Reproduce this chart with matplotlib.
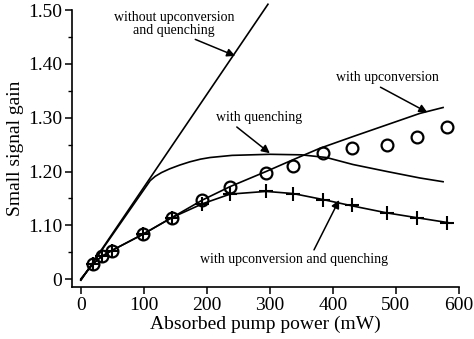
import matplotlib
matplotlib.use("Agg")
import matplotlib.pyplot as plt
from matplotlib.ticker import MultipleLocator, FixedLocator

plt.rcParams['font.family'] = ['Liberation Serif', 'DejaVu Serif']

# Data
pump_pts = [19, 33, 49, 98, 144, 193, 237, 294, 337, 384, 431, 486, 534, 581]
gain_upconv_pts = [1.028, 1.042, 1.053, 1.083, 1.114, 1.147, 1.172, 1.198, 1.211,
                   1.234, 1.244, 1.250, 1.265, 1.283]
gain_both_pts = [1.028, 1.042, 1.053, 1.083, 1.114, 1.140, 1.158, 1.163, 1.159,
                 1.147, 1.137, 1.123, 1.114, 1.105]

without_x = [0, 297]
without_y = [0.998, 1.511]

quench_x = [0, 110, 118, 128, 141, 157, 173, 190, 205, 240, 300, 350, 390, 432,
            486, 538, 575]
quench_y = [0.998, 1.183, 1.191, 1.198, 1.205, 1.212, 1.218, 1.223, 1.226, 1.230,
            1.232, 1.231, 1.226, 1.213, 1.200, 1.188, 1.181]

upconv_x = [0, 19, 33, 49, 98, 144, 193, 237, 294, 337, 379, 432, 538, 575]
upconv_y = [1.0, 1.028, 1.042, 1.053, 1.083, 1.114, 1.147, 1.172, 1.200, 1.222,
            1.243, 1.265, 1.308, 1.319]

both_x = [0, 19, 33, 49, 98, 144, 193, 237, 294, 337, 384, 431, 486, 534, 588]
both_y = [1.0, 1.028, 1.042, 1.053, 1.083, 1.114, 1.140, 1.158, 1.163, 1.159,
          1.148, 1.136, 1.123, 1.114, 1.104]

x_ticks = [0, 100, 200, 300, 400, 500, 600]
y_ticks = [1.00, 1.10, 1.20, 1.30, 1.40, 1.50]
y_tick_labels = ['0', '1.10', '1.20', '1.30', '1.40', '1.50']

fig = plt.figure(figsize=(4.74, 3.39), dpi=100)
ax = fig.add_axes([0.152, 0.153, 0.816, 0.817])

lw = 1.2
ax.plot(without_x, without_y, color='black', lw=lw, clip_on=False)
ax.plot(quench_x, quench_y, color='black', lw=lw)
ax.plot(upconv_x, upconv_y, color='black', lw=lw)
ax.plot(both_x, both_y, color='black', lw=lw)
ax.plot(pump_pts, gain_upconv_pts, linestyle='none', marker='o', ms=8.5,
        mfc='none', mec='black', mew=1.6)
ax.plot(pump_pts, gain_both_pts, linestyle='none', marker='+', ms=10,
        mec='black', mew=1.5)

ax.set_xlim(-14, 600)
ax.set_ylim(0.985, 1.50)
ax.spines['top'].set_visible(False)
ax.spines['right'].set_visible(False)
ax.spines['left'].set_linewidth(1.2)
ax.spines['bottom'].set_linewidth(1.2)

ax.xaxis.set_major_locator(FixedLocator(x_ticks))
ax.yaxis.set_major_locator(FixedLocator(y_ticks))
ax.set_yticklabels(y_tick_labels)
ax.yaxis.set_minor_locator(MultipleLocator(0.05))
ax.tick_params(axis='both', which='major', direction='out', length=5, width=1.1,
               labelsize=14, pad=2)
ax.tick_params(axis='y', which='minor', direction='out', length=3, width=1.0)

ax.set_xlabel('Absorbed pump power (mW)', fontsize=14, labelpad=1)
ax.set_ylabel('Small signal gain', fontsize=14, labelpad=3)

afs = 10
ap = dict(arrowstyle='-|>', color='black', lw=1.1, mutation_scale=12,
          shrinkA=0, shrinkB=0)
ax.annotate('without upconversion\nand quenching', xy=(245, 1.415),
            xytext=(148, 1.475), fontsize=afs, ha='center', va='center',
            linespacing=1.0, arrowprops=dict(ap, relpos=(0.62, 0.0)))
ax.annotate('with upconversion', xy=(550, 1.310), xytext=(487, 1.374),
            fontsize=afs, ha='center', va='center',
            arrowprops=dict(ap, relpos=(0.38, 0.0)))
ax.annotate('with quenching', xy=(300, 1.234), xytext=(283, 1.300),
            fontsize=afs, ha='center', va='center',
            arrowprops=dict(ap, relpos=(0.2, 0.0)))
ax.annotate('with upconversion and quenching', xy=(410, 1.147),
            xytext=(338, 1.037), fontsize=afs, ha='center', va='center',
            arrowprops=dict(ap, relpos=(0.6, 1.0)))

fig.savefig('out.png', dpi=100)
